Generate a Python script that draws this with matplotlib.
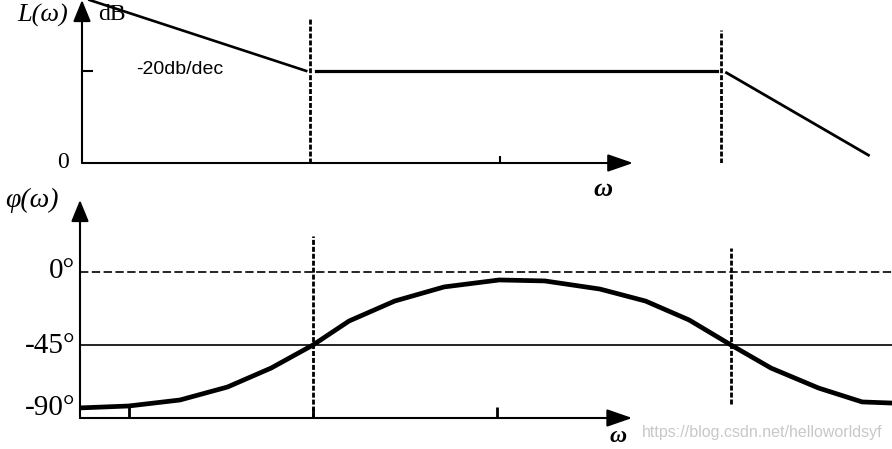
import matplotlib
matplotlib.use("Agg")
import matplotlib.pyplot as plt

# ---- data (x is log10(omega), corner frequencies at 0 and 2.2) ----
w_corner1 = 0.0
w_corner2 = 2.2

# magnitude asymptotes (dB)
mag_low_w = [-1.18, -0.02]
mag_low_db = [35.4, 20.0]
mag_mid_w = [0.03, 2.18]
mag_mid_db = [20.0, 20.0]
mag_high_w = [2.23, 2.99]
mag_high_db = [19.6, 1.7]
mag_ticks = [1.02]
mag_level = 20.0

# phase curve (deg)
phase_w = [-1.23, -0.97, -0.70, -0.45, -0.22, 0.0, 0.19, 0.43, 0.69, 0.98,
           1.22, 1.51, 1.75, 1.98, 2.2, 2.41, 2.66, 2.89, 3.05]
phase_deg = [-83.8, -82.6, -78.9, -70.9, -59.2, -45.0, -30.2, -17.9, -9.2, -4.9,
             -5.5, -10.5, -17.9, -29.6, -45.0, -59.2, -71.5, -80.1, -80.8]
phase_ticks = [-0.97, 0.0, 0.97]
phase_labels = ["0°", "-45°", "-90°"]
phase_levels = [0, -45, -90]

W, H = 892, 449
plt.rcParams["lines.scale_dashes"] = False

fig = plt.figure(figsize=(W / 100, H / 100), dpi=100)


def px_box(left, top, right, bottom):
    return [left / W, 1 - bottom / H, (right - left) / W, (bottom - top) / H]


def fig_txt(x, y, s, **kw):
    fig.text(x / W, 1 - y / H, s, **kw)


serif = "Liberation Serif"
vdash = (3.6, 1.4)
arrow_kw = dict(color="black", lw=1.5, mutation_scale=12, shrinkA=0, shrinkB=0)

# ---------------- magnitude ----------------
ax1 = fig.add_axes(px_box(82, 0, 892, 163))
ax1.set_xlim(-1.22, 3.116)
ax1.set_ylim(0, 35.4)
for s in ax1.spines.values():
    s.set_visible(False)

ax1.plot(mag_low_w, mag_low_db, color="black", lw=1.9, clip_on=False)
ax1.plot(mag_mid_w, mag_mid_db, color="black", lw=2.3)
ax1.plot(mag_high_w, mag_high_db, color="black", lw=2.0)
ax1.plot([w_corner1, w_corner1], [0, 31.5], color="black", lw=2.0, dashes=vdash)
ax1.plot([w_corner2, w_corner2], [0, 28.9], color="black", lw=2.0, dashes=vdash)

# axes with arrows
ax1.annotate("", xy=(1.73, 0), xytext=(-1.22, 0),
             arrowprops=dict(arrowstyle="-|>,head_length=1.3,head_width=0.45", **arrow_kw),
             annotation_clip=False)
ax1.annotate("", xy=(0, 1.0), xytext=(0, 0), xycoords="axes fraction",
             arrowprops=dict(arrowstyle="-|>,head_length=1.1,head_width=0.45", **arrow_kw),
             annotation_clip=False)

ax1.set_xticks(mag_ticks)
ax1.set_yticks([mag_level])
ax1.tick_params(axis="both", direction="in", length=5, width=1.5,
                labelbottom=False, labelleft=False)
ax1.tick_params(axis="y", length=8)

fig_txt(43, 15, "L(ω)", family=serif, style="italic", fontsize=19, ha="center", va="center")
fig_txt(112, 15, "dB", family=serif, fontsize=17, ha="center", va="center")
fig_txt(63, 163, "0", family=serif, fontsize=17, ha="center", va="center")
fig_txt(136, 70, "-20db/dec", family="Liberation Sans", fontsize=14, ha="left", va="center")
fig_txt(603, 190, "ω", family=serif, style="italic", weight="bold", fontsize=19,
        ha="center", va="center")

# ---------------- phase ----------------
ax2 = fig.add_axes(px_box(80, 200, 892, 418))
ax2.set_xlim(-1.226, 3.047)
ax2.set_ylim(-90, 44.4)
for s in ax2.spines.values():
    s.set_visible(False)

ax2.axhline(phase_levels[0], color="black", lw=1.2, dashes=(6, 2.5))
ax2.axhline(phase_levels[1], color="black", lw=1.2)
ax2.plot(phase_w, phase_deg, color="black", lw=3.4, solid_capstyle="round")
ax2.plot([w_corner1, w_corner1], [-90, 22.2], color="black", lw=2.0, dashes=vdash)
ax2.plot([w_corner2, w_corner2], [-81.4, 14.8], color="black", lw=2.0, dashes=vdash)

ax2.annotate("", xy=(1.68, -90), xytext=(-1.226, -90),
             arrowprops=dict(arrowstyle="-|>,head_length=1.3,head_width=0.45", **arrow_kw),
             annotation_clip=False)
ax2.annotate("", xy=(0, 1.0), xytext=(0, 0), xycoords="axes fraction",
             arrowprops=dict(arrowstyle="-|>,head_length=1.1,head_width=0.45", **arrow_kw),
             annotation_clip=False)

ax2.set_xticks(phase_ticks)
ax2.set_yticks([])
ax2.tick_params(axis="x", direction="in", length=8, width=2, labelbottom=False)

label_y = {"0°": 271, "-45°": 346, "-90°": 408}
for lab in phase_labels:
    fig_txt(75, label_y[lab], lab, family=serif, fontsize=21, ha="right", va="center")

fig_txt(32, 200, "φ(ω)", family=serif, style="italic", fontsize=20, ha="center", va="center")
fig_txt(618, 437, "ω", family=serif, style="italic", weight="bold", fontsize=17,
        ha="center", va="center")
fig_txt(762, 433, "https://blog.csdn.net/helloworldsyf", family="Liberation Sans",
        fontsize=11.5, color="#c8c8c8", ha="center", va="center")

fig.savefig("out.png", dpi=100, facecolor="white")
